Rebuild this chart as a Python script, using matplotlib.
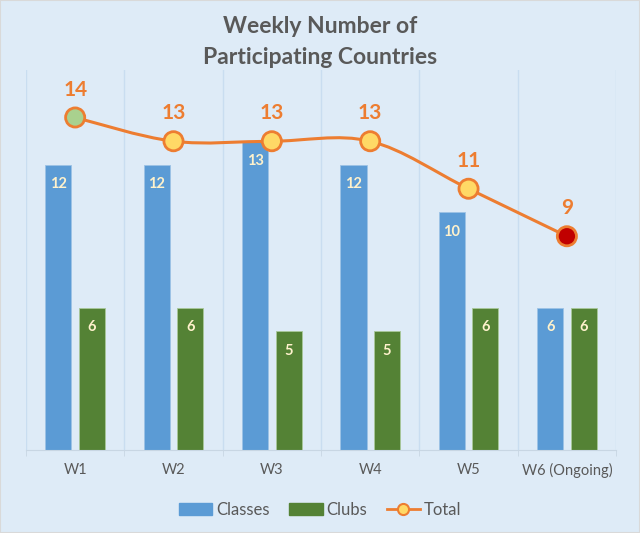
import numpy as np
import matplotlib.pyplot as plt
from matplotlib.path import Path
from matplotlib.patches import PathPatch, Patch
from matplotlib.lines import Line2D

weeks = ["W1", "W2", "W3", "W4", "W5", "W6 (Ongoing)"]
classes = [12, 12, 13, 12, 10, 6]
clubs = [6, 6, 5, 5, 6, 6]
total = [14, 13, 13, 13, 11, 9]
marker_colors = ["#A9D18E", "#FFD966", "#FFD966", "#FFD966", "#FFD966", "#C00000"]

bg = "#DEEBF7"
blue = "#5B9BD5"
green = "#548235"
orange = "#ED7D31"
grey = "#595959"

plt.rcParams['font.family'] = ['Lato', 'DejaVu Sans']

fig = plt.figure(figsize=(6.4, 5.33), dpi=100, facecolor=bg)
ax = fig.add_axes([0.0406, 0.1557, 0.922, 0.713])
ax.set_facecolor(bg)

x = np.arange(len(weeks))
w = 0.265
off = 0.17
b1 = ax.bar(x - off, classes, w, color=blue, edgecolor="#9DC3E6", linewidth=0.6, label="Classes", zorder=2)
b2 = ax.bar(x + off, clubs, w, color=green, edgecolor="#A9C89A", linewidth=0.6, label="Clubs", zorder=2)

for bars, vals in ((b1, classes), (b2, clubs)):
    for r, v in zip(bars, vals):
        ax.annotate(str(v), (r.get_x() + r.get_width() / 2, v), xytext=(0, -14),
                    textcoords="offset points", ha="center", va="center",
                    color="#FFF2CC", fontsize=10.5, fontweight="bold", zorder=5)

# smoothed line (Excel-like) via cubic bezier segments
pts = list(zip(x.astype(float), map(float, total)))
verts = [pts[0]]
codes = [Path.MOVETO]
n = len(pts)
for i in range(n - 1):
    p0 = pts[max(i - 1, 0)]
    p1 = pts[i]
    p2 = pts[i + 1]
    p3 = pts[min(i + 2, n - 1)]
    c1 = (p1[0] + (p2[0] - p0[0]) / 6, p1[1] + (p2[1] - p0[1]) / 6)
    c2 = (p2[0] - (p3[0] - p1[0]) / 6, p2[1] - (p3[1] - p1[1]) / 6)
    verts += [c1, c2, p2]
    codes += [Path.CURVE4] * 3
ax.add_patch(PathPatch(Path(verts, codes), fill=False, edgecolor=orange, linewidth=2.2, zorder=3))
ax.scatter(x, total, s=190, c=marker_colors, edgecolors=orange, linewidths=2, zorder=4)
for xi, t in zip(x, total):
    ax.annotate(str(t), (xi, t), xytext=(0, 20), textcoords="offset points",
                ha="center", va="center", color=orange, fontsize=15, fontweight="bold", zorder=5)

ax.set_xlim(-0.5, len(weeks) - 0.5)
ax.set_ylim(0, 16)
ax.set_yticks([])
ax.set_xticks(x)
ax.set_xticklabels(weeks, color=grey, fontsize=10.5)
ax.set_xticks(np.arange(-0.5, len(weeks)), minor=True)
ax.tick_params(axis="x", which="major", length=0, pad=9)
ax.tick_params(axis="x", which="minor", length=4, color="#C8D6E3")
ax.grid(axis="x", which="minor", color="#C9DDF0", linewidth=1, zorder=0)
for s in ("top", "left", "right"):
    ax.spines[s].set_visible(False)
ax.spines["bottom"].set_color("#C8D6E3")

fig.text(0.5, 0.921, "Weekly Number of\nParticipating Countries", ha="center", va="center",
         fontsize=16.5, fontweight="bold", color=grey, linespacing=1.55)

handles = [Patch(color=blue, label="Classes"), Patch(color=green, label="Clubs"),
           Line2D([0], [0], color=orange, lw=2, marker="o", markersize=8,
                  markerfacecolor="#FFD966", markeredgecolor=orange, markeredgewidth=1.5, label="Total")]
fig.legend(handles=handles, loc="center", bbox_to_anchor=(0.5, 0.043), ncol=3, frameon=False,
           fontsize=12, handlelength=2.0, handleheight=0.7, handletextpad=0.2, columnspacing=1.2,
           labelcolor=grey)

fig.patches.append(plt.Rectangle((0, 0), 1, 1, transform=fig.transFigure, fill=False,
                                 edgecolor="#D9D9D9", linewidth=1.5))

fig.savefig("out.png", dpi=100, facecolor=bg)
